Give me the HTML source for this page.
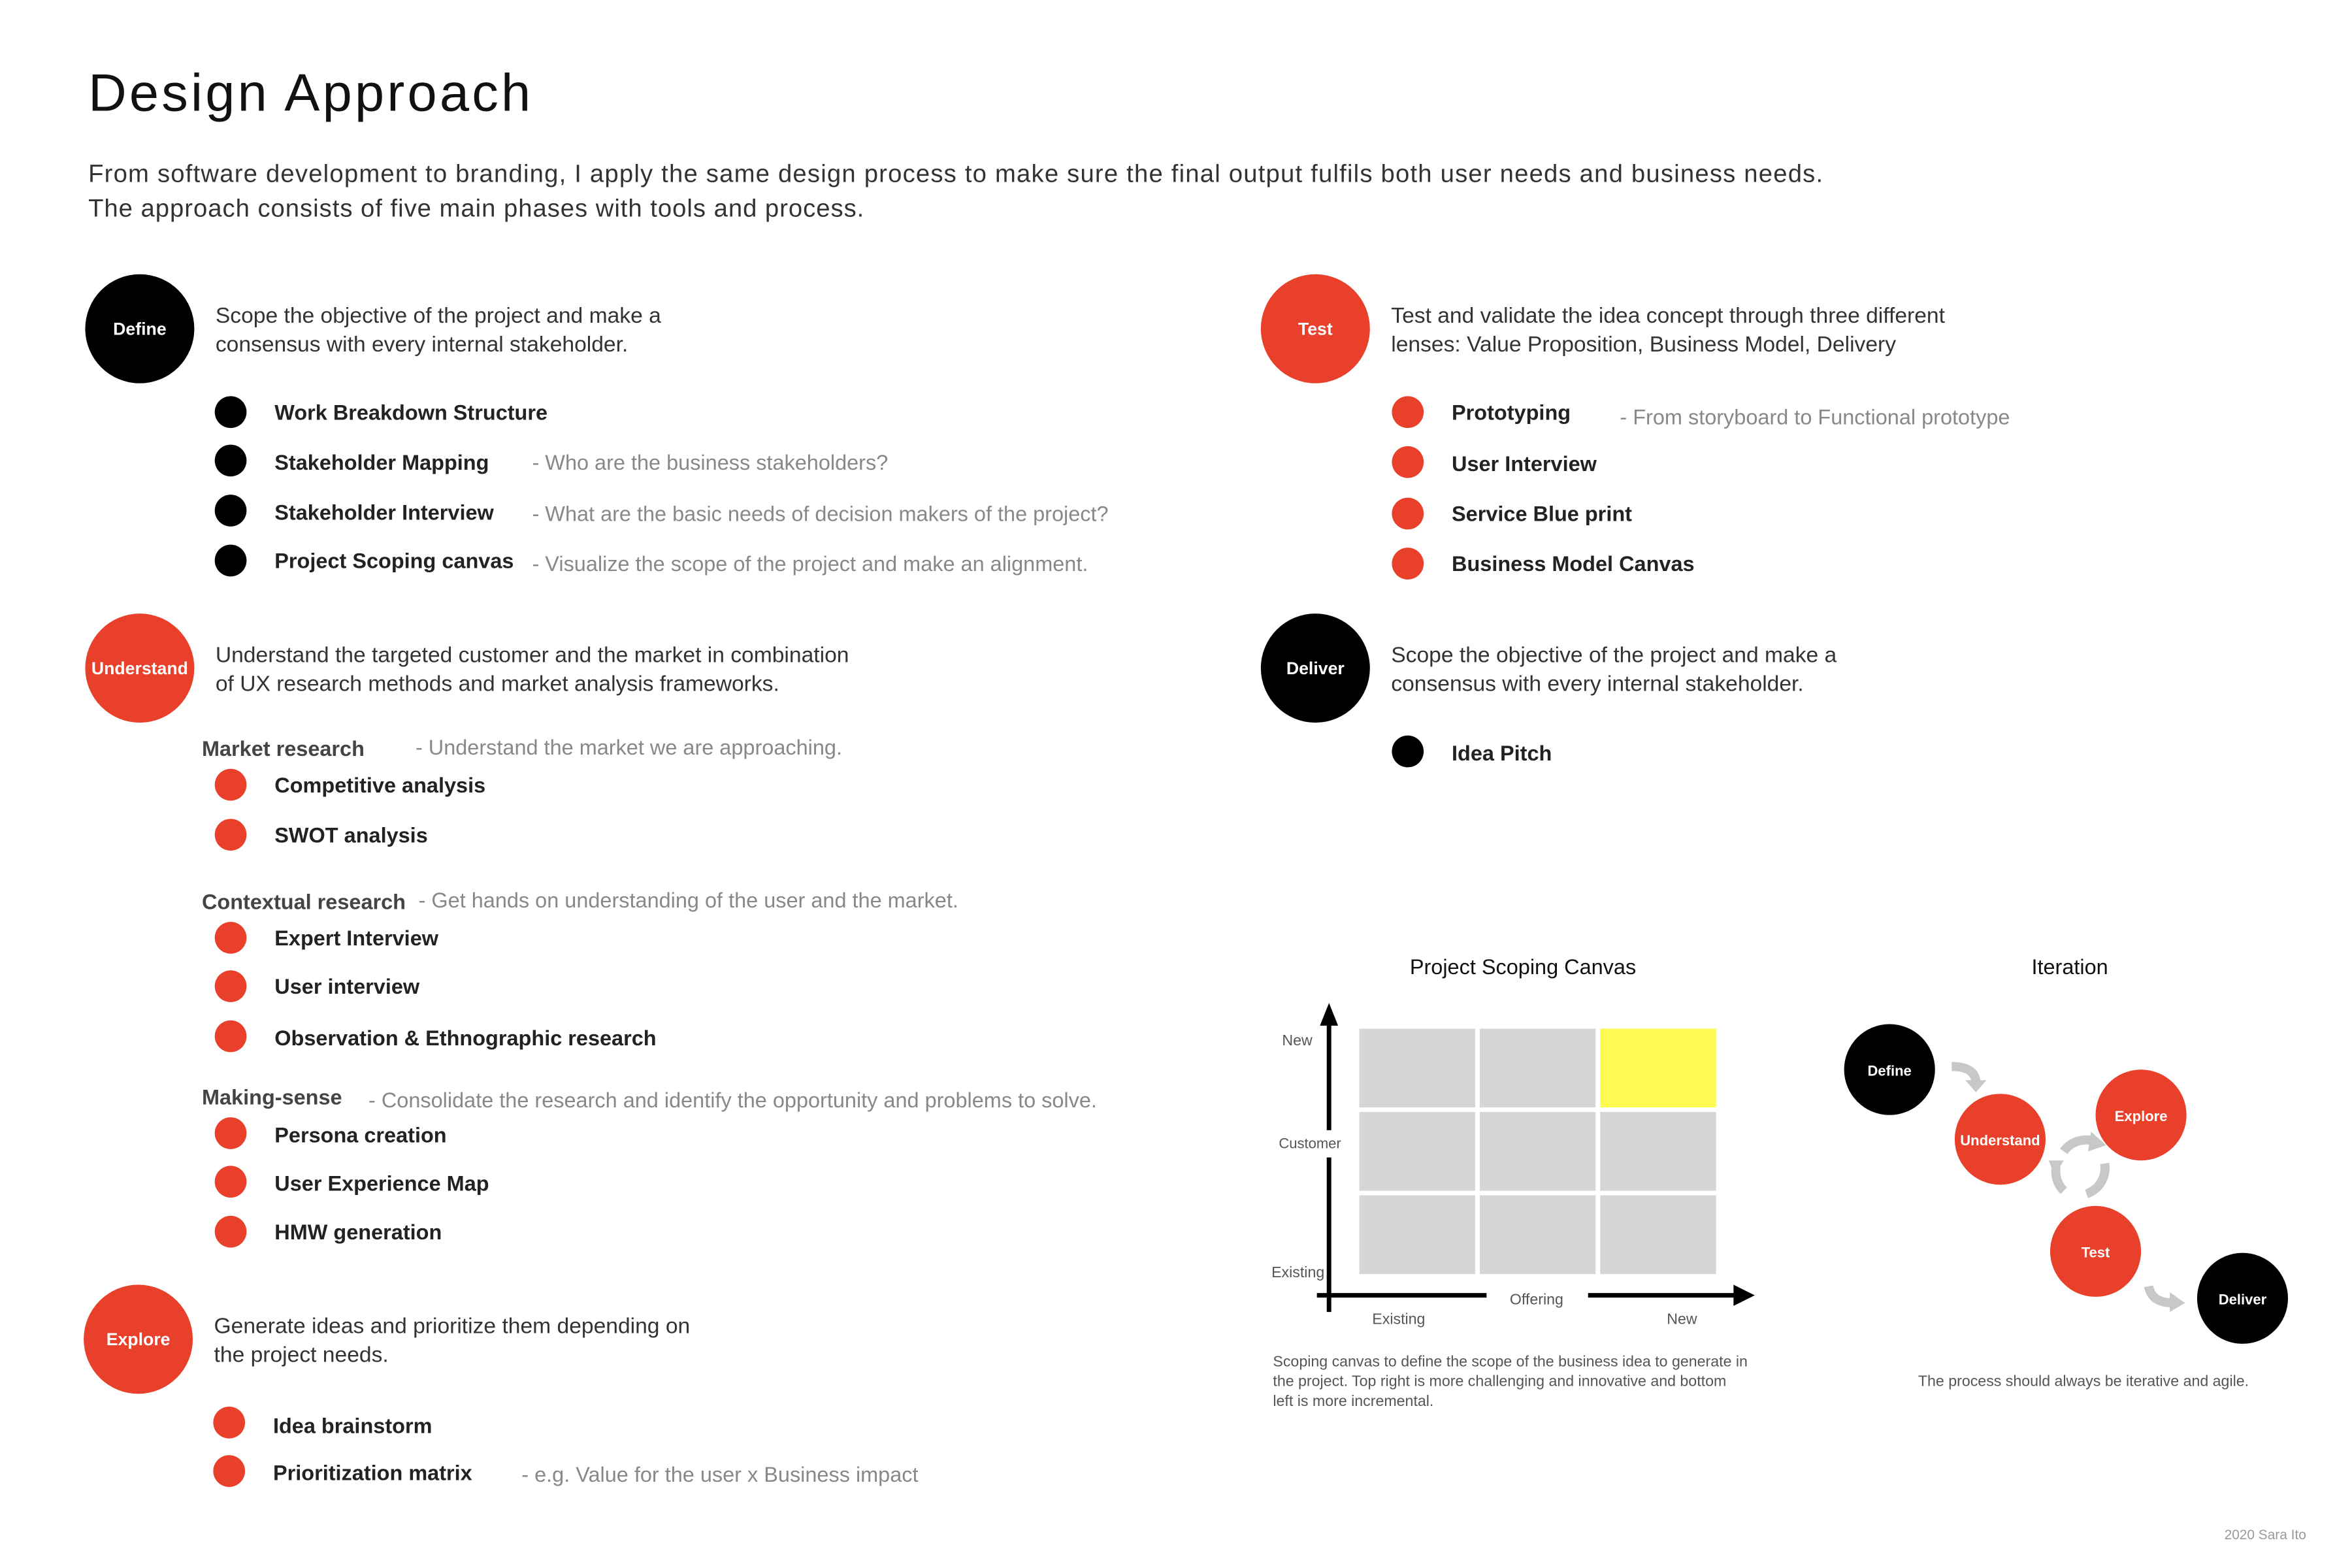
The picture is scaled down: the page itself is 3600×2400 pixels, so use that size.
<!DOCTYPE html>
<html><head><meta charset="utf-8"><style>
html,body{margin:0;padding:0;background:#fff}
svg{display:block}
text{font-family:"Liberation Sans",sans-serif}
.b{font-weight:bold;fill:#222;font-size:14px}
.d{fill:#888;font-size:14px}
.p{fill:#333;font-size:14.5px}
.w{fill:#fff;font-weight:bold;font-size:11.5px}
.s{fill:#555;font-size:10px}
</style></head><body>
<svg id="root" width="3600" height="2400" viewBox="0 0 1552 1035" xmlns="http://www.w3.org/2000/svg">
<text x="58" y="73" font-size="35" fill="#111" textLength="292">Design Approach</text>
<text x="58" y="120" font-size="16.5" fill="#333" textLength="1145">From software development to branding, I apply the same design process to make sure the final output fulfils both user needs and business needs.</text>
<text x="58" y="143" font-size="16.5" fill="#333" textLength="512">The approach consists of five main phases with tools and process.</text>

<!-- Define -->
<g>
<circle cx="92" cy="217" r="36" fill="#000"/>
<text x="92" y="221" text-anchor="middle" class="w">Define</text>
<text x="142" y="213" class="p">Scope the objective of the project and make a</text>
<text x="142" y="232" class="p">consensus with every internal stakeholder.</text>
<circle cx="152" cy="272" r="10.5" fill="#000"/><text x="181" y="277" class="b">Work Breakdown Structure</text>
<circle cx="152" cy="304" r="10.5" fill="#000"/><text x="181" y="310" class="b">Stakeholder Mapping</text><text x="351" y="310" class="d">- Who are the business stakeholders?</text>
<circle cx="152" cy="337" r="10.5" fill="#000"/><text x="181" y="343" class="b">Stakeholder Interview</text><text x="351" y="344" class="d">-   What are the basic needs of decision makers of the project?</text>
<circle cx="152" cy="370" r="10.5" fill="#000"/><text x="181" y="375" class="b">Project Scoping canvas</text><text x="351" y="377" class="d">-   Visualize the scope of the project and make an alignment.</text>
</g>

<!-- Understand -->
<g>
<circle cx="92" cy="441" r="36" fill="#e8402a"/>
<text x="92" y="445" text-anchor="middle" class="w">Understand</text>
<text x="142" y="437" class="p">Understand the targeted customer and the market in combination</text>
<text x="142" y="456" class="p">of UX research methods and market analysis frameworks.</text>
<text x="133" y="499" class="b" style="fill:#444">Market research</text><text x="274" y="498" class="d">-   Understand the market we are approaching.</text>
<circle cx="152" cy="518" r="10.5" fill="#e8402a"/><text x="181" y="523" class="b">Competitive analysis</text>
<circle cx="152" cy="551" r="10.5" fill="#e8402a"/><text x="181" y="556" class="b">SWOT analysis</text>
<text x="133" y="600" class="b" style="fill:#444">Contextual research</text><text x="276" y="599" class="d">-   Get hands on understanding of the user and the market.</text>
<circle cx="152" cy="619" r="10.5" fill="#e8402a"/><text x="181" y="624" class="b">Expert Interview</text>
<circle cx="152" cy="651" r="10.5" fill="#e8402a"/><text x="181" y="656" class="b">User interview</text>
<circle cx="152" cy="684" r="10.5" fill="#e8402a"/><text x="181" y="690" class="b">Observation &amp; Ethnographic research</text>
<text x="133" y="729" class="b" style="fill:#444">Making-sense</text><text x="243" y="731" class="d">-   Consolidate the research and identify the opportunity and  problems to solve.</text>
<circle cx="152" cy="748" r="10.5" fill="#e8402a"/><text x="181" y="754" class="b">Persona creation</text>
<circle cx="152" cy="780" r="10.5" fill="#e8402a"/><text x="181" y="786" class="b">User Experience Map</text>
<circle cx="152" cy="813" r="10.5" fill="#e8402a"/><text x="181" y="818" class="b">HMW generation</text>
</g>

<!-- Explore -->
<g>
<circle cx="91" cy="884" r="36" fill="#e8402a"/>
<text x="91" y="888" text-anchor="middle" class="w">Explore</text>
<text x="141" y="880" class="p">Generate ideas and prioritize them depending on</text>
<text x="141" y="899" class="p">the project needs.</text>
<circle cx="151" cy="939" r="10.5" fill="#e8402a"/><text x="180" y="946" class="b">Idea brainstorm</text>
<circle cx="151" cy="971" r="10.5" fill="#e8402a"/><text x="180" y="977" class="b">Prioritization matrix</text><text x="344" y="978" class="d">- e.g. Value for the user x Business impact</text>
</g>

<!-- Test -->
<g>
<circle cx="868" cy="217" r="36" fill="#e8402a"/>
<text x="868" y="221" text-anchor="middle" class="w">Test</text>
<text x="918" y="213" class="p">Test and validate the idea concept through three different</text>
<text x="918" y="232" class="p">lenses:  Value Proposition, Business Model, Delivery</text>
<circle cx="929" cy="272" r="10.5" fill="#e8402a"/><text x="958" y="277" class="b">Prototyping</text><text x="1069" y="280" class="d">- From storyboard to Functional prototype</text>
<circle cx="929" cy="305" r="10.5" fill="#e8402a"/><text x="958" y="311" class="b">User Interview</text>
<circle cx="929" cy="339" r="10.5" fill="#e8402a"/><text x="958" y="344" class="b">Service Blue print</text>
<circle cx="929" cy="372" r="10.5" fill="#e8402a"/><text x="958" y="377" class="b">Business Model Canvas</text>
</g>

<!-- Deliver -->
<g>
<circle cx="868" cy="441" r="36" fill="#000"/>
<text x="868" y="445" text-anchor="middle" class="w">Deliver</text>
<text x="918" y="437" class="p">Scope the objective of the project and make a</text>
<text x="918" y="456" class="p">consensus with every internal stakeholder.</text>
<circle cx="929" cy="496" r="10.5" fill="#000"/><text x="958" y="502" class="b">Idea Pitch</text>
</g>

<!-- Scoping canvas -->
<g id="canvas">
<text x="1005" y="643" text-anchor="middle" font-size="14" fill="#111">Project Scoping Canvas</text>
<line x1="877" y1="672" x2="877" y2="746" stroke="#000" stroke-width="3"/>
<line x1="877" y1="764" x2="877" y2="866" stroke="#000" stroke-width="3"/>
<polygon points="877,662 871,677 883,677" fill="#000"/>
<line x1="869" y1="855" x2="981" y2="855" stroke="#000" stroke-width="3"/>
<line x1="1048" y1="855" x2="1146" y2="855" stroke="#000" stroke-width="3"/>
<polygon points="1158,855 1144,848 1144,862" fill="#000"/>
<text x="1014" y="861" text-anchor="middle" font-size="10" fill="#555">Offering</text>
<text x="866" y="690" text-anchor="end" font-size="10" fill="#555">New</text>
<text x="885" y="758" text-anchor="end" font-size="9.5" fill="#555">Customer</text>
<text x="874" y="843" text-anchor="end" font-size="10" fill="#555">Existing</text>
<text x="923" y="874" text-anchor="middle" font-size="10" fill="#555">Existing</text>
<text x="1110" y="874" text-anchor="middle" font-size="10" fill="#555">New</text>
<text x="840" y="902" class="s">Scoping canvas to define the scope of the business idea to generate in</text>
<text x="840" y="915" class="s">the project. Top right is more challenging and innovative and bottom</text>
<text x="840" y="928" class="s">left is more incremental.</text>
</g>

<!-- Iteration -->
<g>
<text x="1366" y="643" text-anchor="middle" font-size="14" fill="#111">Iteration</text>
<path d="M1288,704 Q1304,704 1304,715" fill="none" stroke="#c8c8c8" stroke-width="6"/>
<polygon points="1297,713 1311,713 1304,721" fill="#c8c8c8"/>
<path d="M1362,760 A18,18 0 0 1 1384,754" fill="none" stroke="#c8c8c8" stroke-width="6"/>
<path d="M1389,768 A18,18 0 0 1 1377,788" fill="none" stroke="#c8c8c8" stroke-width="6"/>
<path d="M1362,786 A18,18 0 0 1 1357,770" fill="none" stroke="#c8c8c8" stroke-width="6"/>
<polygon points="1380,747 1390,756 1378,760" fill="#c8c8c8"/>
<polygon points="1352,766 1362,766 1356,776" fill="#c8c8c8"/>
<path d="M1418,849 Q1420,860 1434,860" fill="none" stroke="#c8c8c8" stroke-width="6"/>
<polygon points="1432,853 1442,860 1432,866" fill="#c8c8c8"/>
<circle cx="1247" cy="706" r="30" fill="#000"/><text x="1247" y="710" text-anchor="middle" class="w" style="font-size:9.5px">Define</text>
<circle cx="1320" cy="752" r="30" fill="#e8402a"/><text x="1320" y="756" text-anchor="middle" class="w" style="font-size:9.5px">Understand</text>
<circle cx="1413" cy="736" r="30" fill="#e8402a"/><text x="1413" y="740" text-anchor="middle" class="w" style="font-size:9.5px">Explore</text>
<circle cx="1383" cy="826" r="30" fill="#e8402a"/><text x="1383" y="830" text-anchor="middle" class="w" style="font-size:9.5px">Test</text>
<circle cx="1480" cy="857" r="30" fill="#000"/><text x="1480" y="861" text-anchor="middle" class="w" style="font-size:9.5px">Deliver</text>
<text x="1375" y="915" text-anchor="middle" class="s">The process should always be iterative and agile.</text>
</g>
<text x="1522" y="1016" text-anchor="end" font-size="9" fill="#999">2020 Sara Ito</text>
</svg>
<script>
var offeringCats = ["Existing", "Mid", "New"];
var customerCats = ["New", "Mid", "Existing"];
var highlightCells = [[0, 2]];
var NS = "http://www.w3.org/2000/svg";
function xCol(i){ return 897 + i * 79.5; }
function yRow(j){ return 679 + j * 55; }
var g = document.getElementById("canvas");
for (var j = 0; j < customerCats.length; j++) {
  for (var i = 0; i < offeringCats.length; i++) {
    var hi = highlightCells.some(function(c){ return c[0] === j && c[1] === i; });
    var r = document.createElementNS(NS, "rect");
    r.setAttribute("x", xCol(i)); r.setAttribute("y", yRow(j));
    r.setAttribute("width", 76.5); r.setAttribute("height", 52);
    r.setAttribute("fill", hi ? "#fdfb52" : "#d6d6d6");
    
    
    g.appendChild(r);
  }
}
</script>
</body></html>
